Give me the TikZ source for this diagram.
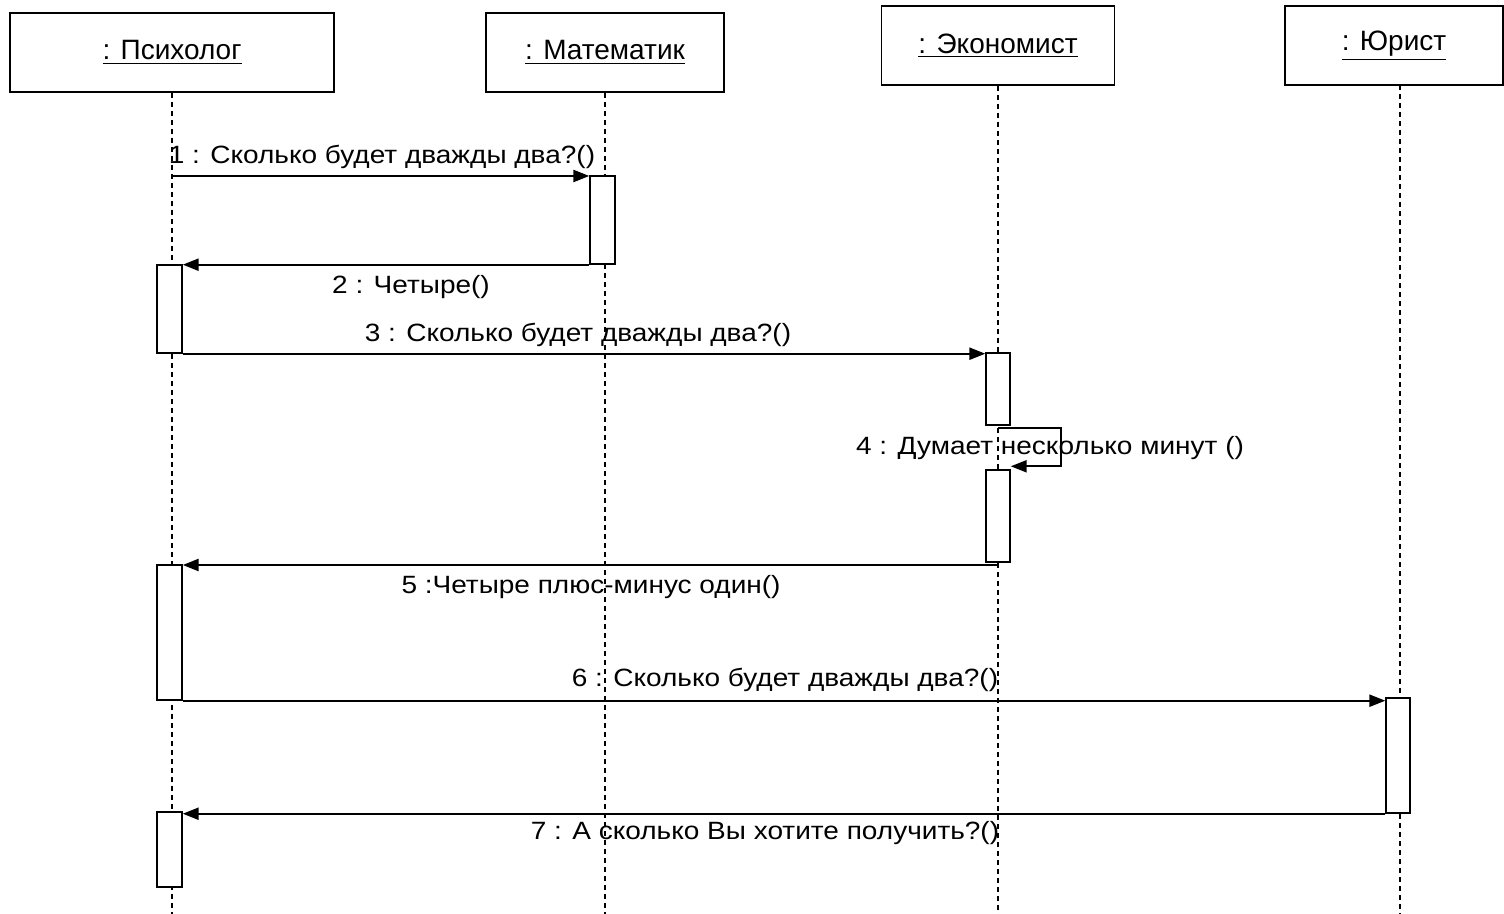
\documentclass[tikz,border=0pt]{standalone}
\usepackage{fontspec}
\usepackage{graphicx}
\setmainfont{Liberation Sans}
\usetikzlibrary{arrows.meta,fit}
\newcommand{\wide}[1]{\scalebox{1.12}[1]{#1}}
\begin{document}
\begin{tikzpicture}[x=0.5pt,y=-0.5pt,
  head/.style={draw,line width=0.8pt,minimum height=39.5pt,inner sep=0pt,font=\fontsize{14}{16}\selectfont},
  act/.style={draw,line width=0.7pt,fill=white,inner sep=0pt},
  life/.style={line width=0.6pt,dash pattern=on 2.5pt off 2pt},
  msg/.style={line width=1.15pt,-{Triangle[length=8pt,width=6pt]}},
  lbl/.style={font=\fontsize{12.5}{14}\selectfont,inner sep=0pt}]
\fill[white] (0,0) rectangle (1504,914);
\useasboundingbox (0,0) rectangle (1504,914);
% heads
\node[head,minimum width=162pt] (psy) at (172,52.5) {\underline{: Психолог}};
\node[head,minimum width=119pt] (mat) at (605,52.5) {\underline{: Математик}};
\node[head,minimum width=116.5pt] (eco) at (998,45.5) {\underline{: Экономист}};
\node[head,minimum width=109pt] (jur) at (1394,45.5) {\underline{: Юрист}};
% lifeline ends
\coordinate (psyE) at (172,914);
\coordinate (matE) at (605,914);
\coordinate (ecoE) at (998,914);
\coordinate (jurS) at (1400,85);
\coordinate (jurE) at (1400,914);
\draw[life] (psy.south) -- (psyE);
\draw[life] (mat.south) -- (matE);
\draw[life] (eco.south) -- (ecoE);
\draw[life] (jurS) -- (jurE);
% activations
\node[act,fit={(590,176) (615,264)}] (aM) {};
\node[act,fit={(157,265) (182,353)}] (aP1) {};
\node[act,fit={(986,353) (1010,425)}] (aE1) {};
\node[act,fit={(986,470) (1010,562)}] (aE2) {};
\node[act,fit={(157,565) (182,700)}] (aP2) {};
\node[act,fit={(1386,698) (1410,813)}] (aJ) {};
\node[act,fit={(157,812) (182,887)}] (aP3) {};
% message start points on lifelines
\coordinate (s1) at (172,176);
\coordinate (s5) at (998,565);
\coordinate (s4a) at (998,428);
\coordinate (s4) at (1061,428);
% messages
\draw[msg] (s1) -- (s1 -| aM.west);
\draw[msg] (aM.south west) -- (aM.south west -| aP1.east);
\draw[msg] (aP1.south east) -- (aP1.south east -| aE1.west);
\draw[msg] (s4a) -- (s4) |- ([yshift=1.5pt]aE2.north east);
\draw[msg] (s5) -- (s5 -| aP2.east);
\draw[msg] (aP2.south east) -- (aP2.south east -| aJ.west);
\draw[msg] (aJ.south west) -- (aJ.south west -| aP3.east);
% labels
\node[lbl] (l1) at (382,157) {\wide{1 : Сколько будет дважды два?()}};
\node[lbl] (l2) at (411,287) {\wide{2 : Четыре()}};
\node[lbl] (l3) at (578,335) {\wide{3 : Сколько будет дважды два?()}};
\node[lbl] (l4) at (1050,448) {\wide{4 : Думает несколько минут ()}};
\node[lbl] (l5) at (591,587) {\wide{5 :Четыре плюс-минус один()}};
\node[lbl] (l6) at (785,680) {\wide{6 : Сколько будет дважды два?()}};
\node[lbl] (l7) at (765,833) {\wide{7 : А сколько Вы хотите получить?()}};
\end{tikzpicture}
\end{document}
